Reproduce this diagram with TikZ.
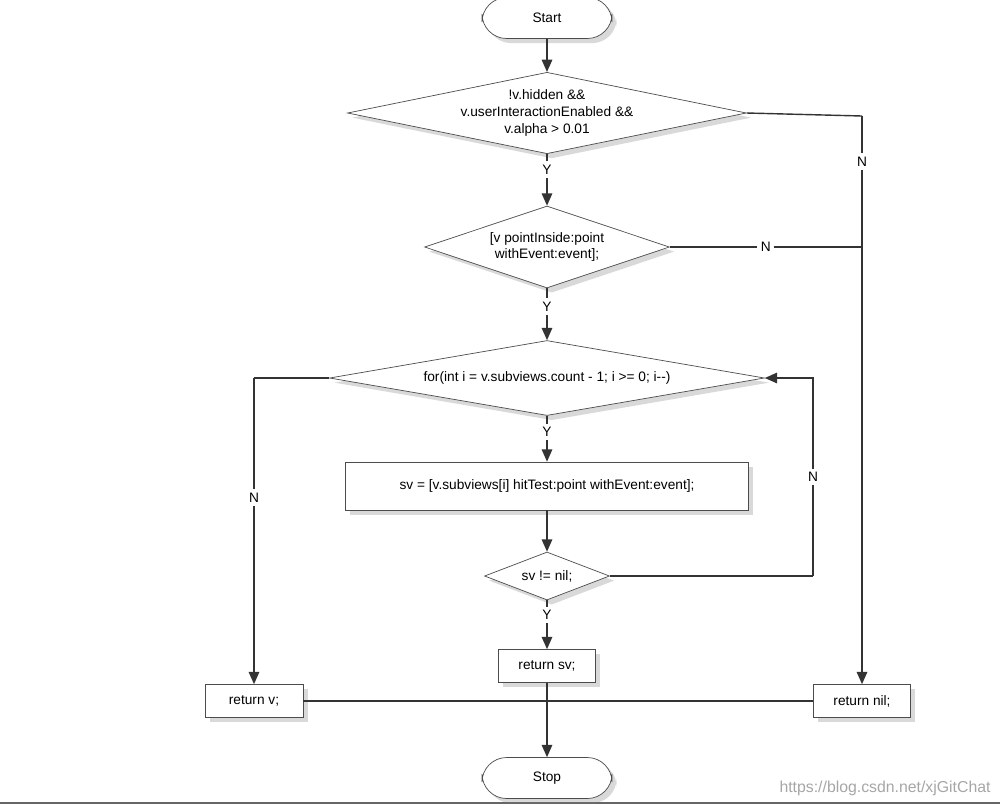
\documentclass[tikz,border=0pt]{standalone}
\usepackage{fontspec}
\setmainfont{Liberation Sans}
\usetikzlibrary{shapes.geometric,shadows,arrows.meta}
\tikzstyle{term} = [draw=black!70, fill=white, rounded corners=14pt,
    minimum width=2.6cm, minimum height=0.82cm, drop shadow={opacity=0.3}]
\tikzstyle{proc} = [draw=black!70, fill=white, rectangle,
    minimum height=0.66cm, drop shadow={opacity=0.3}]
\tikzstyle{dec} = [draw=black!70, fill=white, diamond,
    inner sep=0pt, align=center, drop shadow={opacity=0.3}]
\tikzstyle{lab} = [fill=white, inner sep=2pt]
\tikzstyle{flow} = [draw=black!80, thick, -{Triangle[length=7pt,width=6pt]}]
\tikzstyle{line} = [draw=black!80, thick]
\begin{document}
\begin{tikzpicture}[x=0.02cm,y=-0.02cm, font=\fontsize{7.8}{9.5}\selectfont]
\useasboundingbox (0,0) rectangle (1000,806);
\draw[black!60, line width=1pt] (0,803) -- (1000,803);

\node[term] (start) at (547,18) {Start};
\node[dec, aspect=4.9, minimum width=7.6cm, minimum height=1.56cm] (visible) at (547,113)
  {!v.hidden \&\&\\v.userInteractionEnabled \&\&\\v.alpha > 0.01};
\node[dec, aspect=3, minimum width=4.9cm, minimum height=1.64cm] (inside) at (547,247)
  {[v pointInside:point\\withEvent:event];};
\node[dec, aspect=5.8, minimum width=8.7cm, minimum height=1.5cm] (loop) at (547,378)
  {for(int i = v.subviews.count - 1; i >= 0; i{-}{-})};
\node[proc, minimum width=8.06cm, minimum height=0.96cm] (hit) at (547,486)
  {sv = [v.subviews[i] hitTest:point withEvent:event];};
\node[dec, aspect=2.6, minimum width=2.5cm, minimum height=0.96cm] (check) at (547,576) {sv != nil;};
\node[proc, minimum width=1.94cm] (retsv) at (547,666) {return sv;};
\node[proc, minimum width=1.96cm] (retv) at (254,701) {return v;};
\node[proc, minimum width=1.94cm] (retnil) at (862,701) {return nil;};
\node[term] (stop) at (547,778) {Stop};

\coordinate (c1) at (862,116);
\coordinate (c2) at (862,247);
\coordinate (c3) at (254,378);
\coordinate (c4) at (813,576);
\coordinate (c5) at (813,378);

\draw[flow] (start) -- (visible);
\draw[flow] (visible) -- node[lab, pos=0.3] {Y} (inside);
\draw[flow] (inside) -- node[lab, pos=0.35] {Y} (loop);
\draw[flow] (loop) -- node[lab, pos=0.35] {Y} (hit);
\draw[flow] (hit) -- (check);
\draw[flow] (check) -- node[lab, pos=0.3] {Y} (retsv);
\draw[flow] (retsv) -- (stop);
\draw[line] (visible.east) -- (c1);
\draw[flow] (c1) -- node[lab, pos=0.08] {N} (retnil);
\draw[line] (inside.east) -- node[lab, pos=0.5] {N} (c2);
\draw[line] (loop.west) -- (c3);
\draw[flow] (c3) -- node[lab, pos=0.39] {N} (retv);
\draw[line] (check.east) -- (c4);
\draw[flow] (c4) -- node[lab] {N} (c5) -- (loop.east);
\draw[line] (retv) -- (retnil);

\node[text=black!35, font=\fontsize{9}{11}\selectfont] (mark) at (885,788)
  {https://blog.csdn.net/xjGitChat};
\end{tikzpicture}
\end{document}
